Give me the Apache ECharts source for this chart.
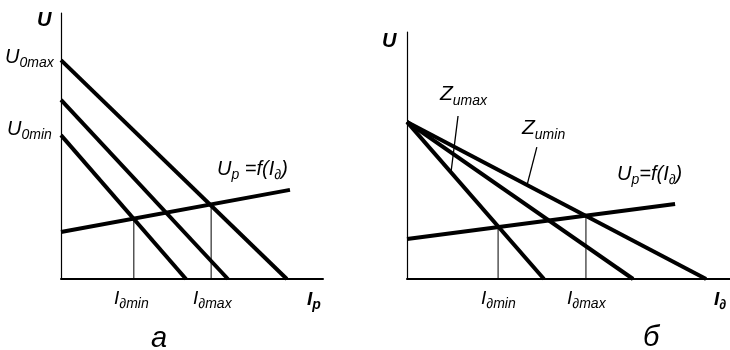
<!DOCTYPE html>
<html>
<head>
<meta charset="utf-8">
<script src="https://cdn.jsdelivr.net/npm/echarts@6/dist/echarts.min.js"></script>
<style>
  html, body { margin: 0; padding: 0; background: #fff; }
  #chart { width: 730px; height: 350px; }
</style>
</head>
<body>
<div id="chart"></div>
<script>
// Panel "а": load lines for U0max, an intermediate U0 and U0min (current vs. voltage)
const leftLoadLines = [
  [[0, 8.23], [8.62, 0]],
  [[0, 6.73], [6.37, 0]],
  [[0, 5.41], [4.77, 0]]
];
// Arc characteristic Up = f(Iд)
const leftArcLine = [[0, 1.77], [8.74, 3.35]];
// Operating points Iдmin, Iдmax (x, U at the crossing)
const leftDrops = [[2.78, 2.27], [5.73, 2.81]];

// Panel "б": load lines from a common U0 for Zumax, intermediate Z and Zumin
const rightLoadLines = [
  [[0, 6.36], [4.24, 0]],
  [[0, 6.36], [7.00, 0]],
  [[0, 6.36], [9.26, 0]]
];
const rightArcLine = [[0, 1.62], [8.30, 3.04]];
const rightDrops = [[2.82, 2.10], [5.54, 2.57]];
// Callout strokes for the Zumax / Zumin captions
const rightLeaders = [
  [[1.58, 6.60], [1.36, 4.30]],
  [[4.02, 5.34], [3.72, 3.82]]
];

const FONT = '"Liberation Sans", Arial, sans-serif';

function makeAxis(gridIndex, lineWidth) {
  return {
    type: 'value', gridIndex, min: 0, max: 10,
    axisLine: { show: true, onZero: true, lineStyle: { color: '#000', width: lineWidth } },
    axisTick: { show: false }, axisLabel: { show: false }, splitLine: { show: false }
  };
}

const series = [];
function addSegment(points, grid, width) {
  series.push({
    type: 'line', xAxisIndex: grid, yAxisIndex: grid,
    data: points, symbol: 'none', silent: true,
    lineStyle: { color: '#000', width: width, cap: 'butt' }
  });
}
leftLoadLines.forEach(l => addSegment(l, 0, 4));
addSegment(leftArcLine, 0, 4);
leftDrops.forEach(([x, y]) => addSegment([[x, 0], [x, y]], 0, 1));
rightLoadLines.forEach(l => addSegment(l, 1, 4));
addSegment(rightArcLine, 1, 4);
rightDrops.forEach(([x, y]) => addSegment([[x, 0], [x, y]], 1, 1));
rightLeaders.forEach(l => addSegment(l, 1, 1.3));

// Text with subscripts: main glyphs raised by bottom padding over the subscript
function richLabel(x, y, text, mainSize, subSize, bold) {
  const w = bold ? 'bold ' : '';
  return {
    type: 'text', x, y, silent: true,
    style: {
      text, fill: '#000', verticalAlign: 'top', align: 'left',
      rich: {
        m: { font: 'italic ' + w + mainSize + 'px ' + FONT, verticalAlign: 'bottom', lineHeight: mainSize + 2, padding: [0, 0, 3, 0] },
        s: { font: 'italic ' + w + subSize + 'px ' + FONT, verticalAlign: 'bottom', lineHeight: subSize + 2 }
      }
    }
  };
}
function plainLabel(x, y, text, font) {
  return { type: 'text', x, y, silent: true,
    style: { text, fill: '#000', font, verticalAlign: 'top', align: 'left' } };
}

const graphics = [
  // panel а
  plainLabel(37, 10, 'U', 'italic bold 20px ' + FONT),
  richLabel(5, 48, '{m|U}{s|0max}', 20, 14),
  richLabel(7, 120, '{m|U}{s|0min}', 20, 14),
  richLabel(217, 160, '{m|U}{s|p}{m| =f(I}{s|∂}{m|)}', 20, 14),
  richLabel(114, 290, '{m|I}{s|∂min}', 19, 14),
  richLabel(193, 290, '{m|I}{s|∂max}', 19, 14),
  richLabel(307, 291, '{m|I}{s|p}', 19, 14, true),
  plainLabel(151, 324, 'а', 'italic 29px ' + FONT),
  // panel б
  plainLabel(382, 31, 'U', 'italic bold 20px ' + FONT),
  richLabel(440, 85, '{m|Z}{s|umax}', 21, 14),
  richLabel(522, 119, '{m|Z}{s|umin}', 21, 14),
  richLabel(617, 165, '{m|U}{s|p}{m|=f(I}{s|∂}{m|)}', 20, 14),
  richLabel(481, 290, '{m|I}{s|∂min}', 19, 14),
  richLabel(567, 290, '{m|I}{s|∂max}', 19, 14),
  richLabel(714, 291, '{m|I}{s|∂}', 19, 14, true),
  plainLabel(643, 323, 'б', 'italic 29px ' + FONT)
];

const chart = echarts.init(document.getElementById('chart'), null, { renderer: 'canvas' });
chart.setOption({
  animation: false,
  backgroundColor: '#fff',
  grid: [
    { left: 61, top: 13, width: 262, height: 266 },
    { left: 407, top: 32, width: 323, height: 247 }
  ],
  xAxis: [makeAxis(0, 2), makeAxis(1, 2)],
  yAxis: [makeAxis(0, 1.2), makeAxis(1, 1.2)],
  series,
  graphic: { elements: graphics }
});
</script>
</body>
</html>
